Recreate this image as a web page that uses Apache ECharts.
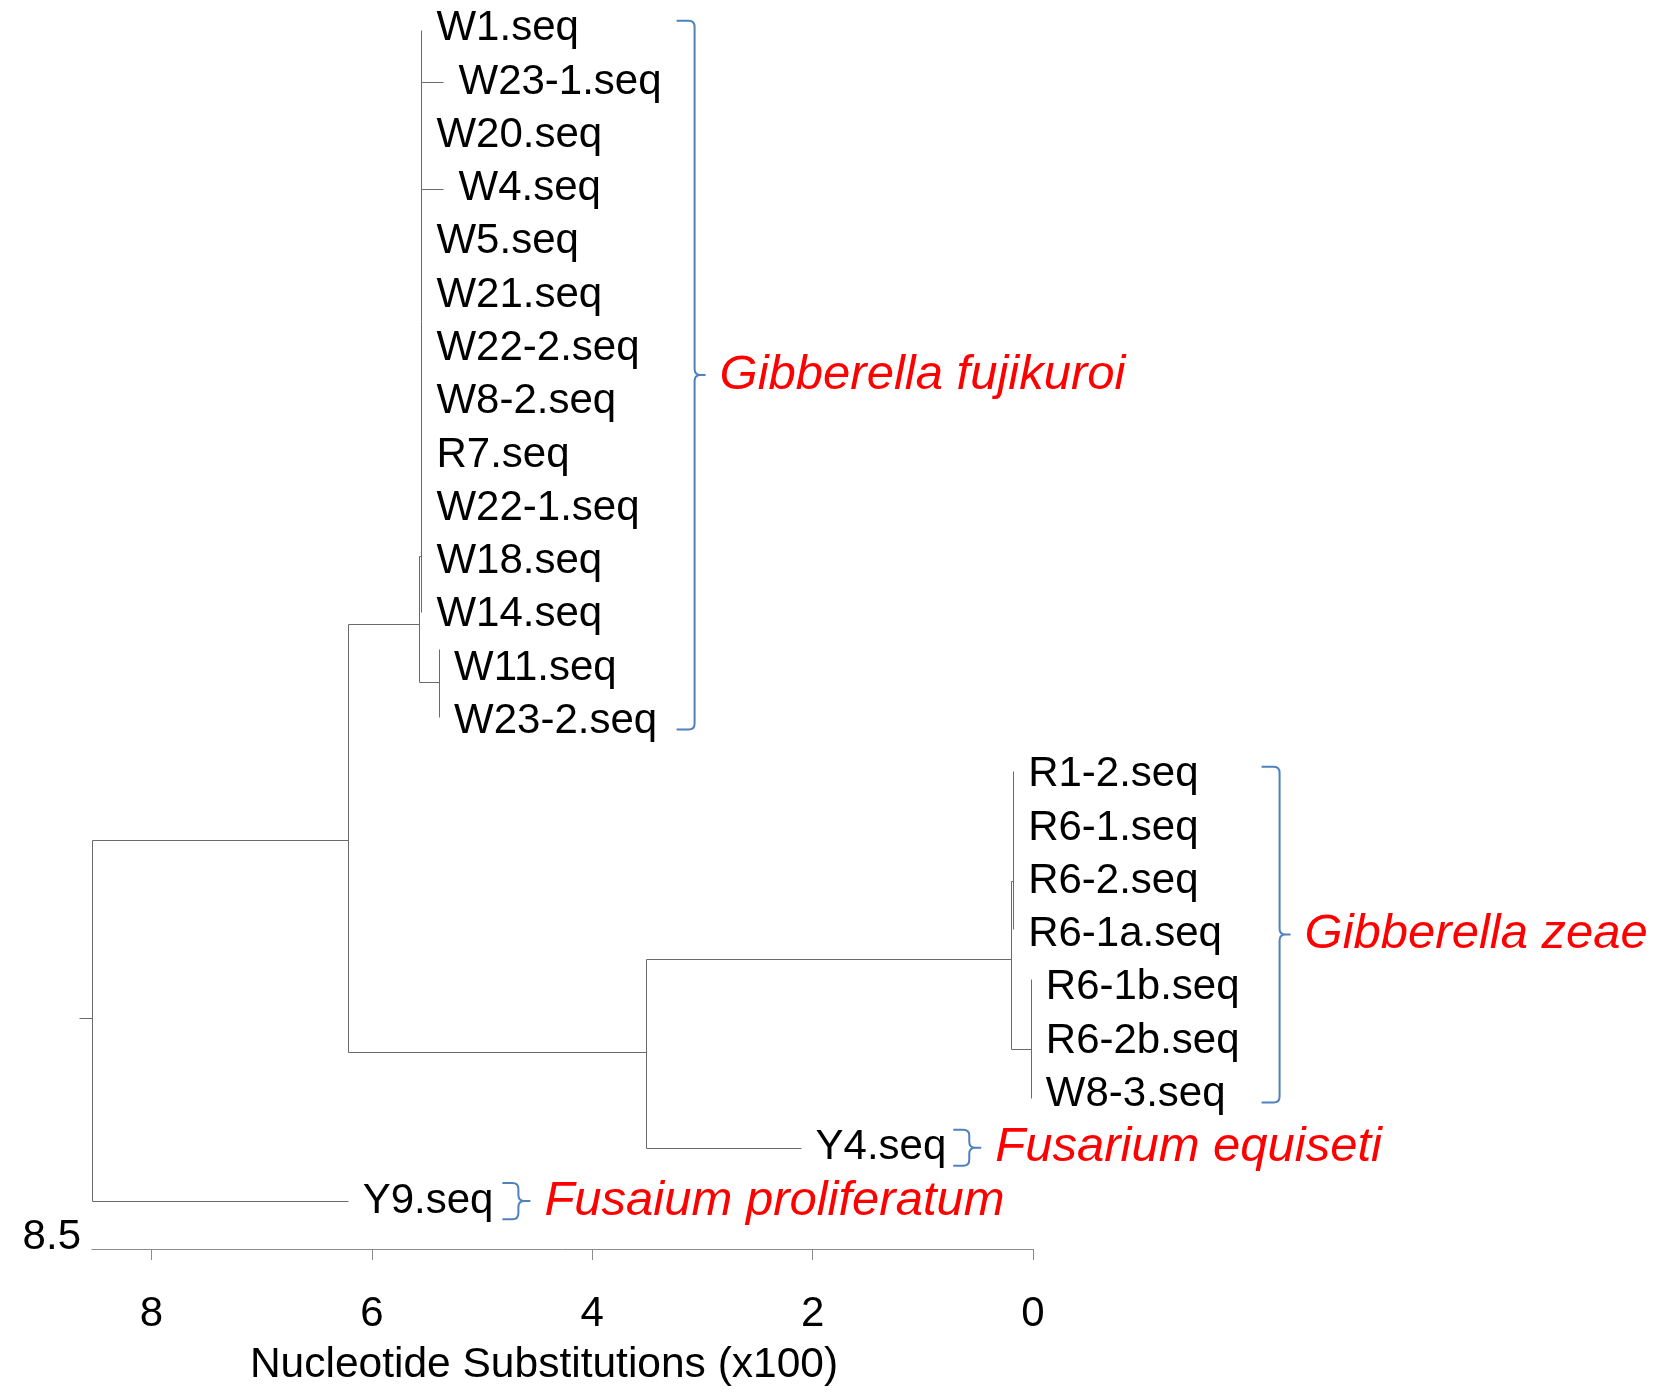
<!DOCTYPE html>
<html><head><meta charset="utf-8">
<script src="https://cdn.jsdelivr.net/npm/echarts@6.0.0/dist/echarts.min.js"></script>
<style>html,body{margin:0;padding:0;background:#fff}#c{width:1656px;height:1392px}</style>
</head><body><div id="c"></div>
<script>
// ---- data ----
const leafNames = ['W1.seq','W23-1.seq','W20.seq','W4.seq','W5.seq','W21.seq','W22-2.seq','W8-2.seq','R7.seq','W22-1.seq','W18.seq','W14.seq','W11.seq','W23-2.seq','R1-2.seq','R6-1.seq','R6-2.seq','R6-1a.seq','R6-1b.seq','R6-2b.seq','W8-3.seq','Y4.seq','Y9.seq'];
const leafTip = [5.55,5.35,5.55,5.35,5.55,5.55,5.55,5.55,5.55,5.55,5.55,5.55,5.39,5.39,0.18,0.18,0.18,0.18,0.02,0.02,0.02,2.11,6.22];
const leafParent = ['G','G','G','G','G','G','G','G','G','G','G','G','H','H','B','B','B','B','C','C','C','I','root'];

const nodeIds        = ['root','E','F','G','H','I','A','B','C'];
const nodeDepth      = [8.54, 6.22, 5.57, 5.55, 5.39, 3.51, 0.20, 0.18, 0.02];
const nodeParent     = [null,'root','E','F','F','E','I','A','A'];
const nodeAttachRow  = [18.56, 15.22, 11.18, 9.89, 12.26, 19.20, 17.46, 16.00, 19.14];
const nodeSpanTop    = [15.22, 11.18, 9.89, 0.02, 11.64, 17.46, 16.00, 13.93, 17.83];
const nodeSpanBottom = [22.00, 19.20, 12.26, 10.95, 12.92, 21.00, 19.14, 16.90, 20.07];
const rootStubDepth = 8.66;

const axisMax = 8.54;
const xTicks = [0, 2, 4, 6, 8];
const axisStartLabel = '8.5';
const axisTitle = 'Nucleotide Substitutions (x100)';

const cladeNames = ['Gibberella fujikuroi','Gibberella zeae','Fusarium equiseti','Fusaium proliferatum'];
const cladeFirstRow = [0, 14, 21, 22];
const cladeLastRow  = [13, 20, 21, 22];

// ---- layout / style (not data) ----
const LEAF_FONT = '42px "Liberation Sans", Arial, sans-serif';
const SPECIES_FONT = 'italic 49px "Liberation Sans", Arial, sans-serif';
const LABEL_OFFSET = 15;
const BRACE_GAP = [15, 22, 7, 9];
const TREE_COLOR = '#6a6a6a';
const BRACE_COLOR = '#4f81bd';
const ROW_MIN = -0.5, ROW_MAX = 22.9;

// ---- build segments ----
const nodeIdx = id => nodeIds.indexOf(id);
const segments = [];
nodeIds.forEach((id, i) => {
  segments.push([nodeDepth[i], nodeSpanTop[i], nodeDepth[i], nodeSpanBottom[i]]);
  const from = nodeParent[i] ? nodeDepth[nodeIdx(nodeParent[i])] : rootStubDepth;
  segments.push([from, nodeAttachRow[i], nodeDepth[i], nodeAttachRow[i]]);
});
leafNames.forEach((n, r) => {
  const pd = nodeDepth[nodeIdx(leafParent[r])];
  if (Math.abs(pd - leafTip[r]) > 1e-9) segments.push([pd, r, leafTip[r], r]);
});
const leafData = leafNames.map((n, r) => [leafTip[r], r, r]);
const cladeData = cladeNames.map((n, c) => [0, cladeFirstRow[c], c]);

const mctx = document.createElement('canvas').getContext('2d');
function textW(t, font) { mctx.font = font; return mctx.measureText(t).width; }

function bracePath(x0, top, bot, w, tip) {
  const xv = x0 + w, mid = (top + bot) / 2, r = Math.min(6, (bot - top) / 6);
  return `M${x0} ${top} L${xv - r} ${top} Q${xv} ${top} ${xv} ${top + r} L${xv} ${mid - r} Q${xv} ${mid} ${xv + r} ${mid} L${xv + tip} ${mid} M${xv + r} ${mid} Q${xv} ${mid} ${xv} ${mid + r} L${xv} ${bot - r} Q${xv} ${bot} ${xv - r} ${bot} L${x0} ${bot}`;
}

const chart = echarts.init(document.getElementById('c'), null, {renderer: 'canvas'});
chart.setOption({
  backgroundColor: '#fff',
  animation: false,
  grid: {left: 92, right: 623, top: 2, bottom: 138},
  xAxis: {
    type: 'value', inverse: true, min: 0, max: axisMax, interval: 2,
    axisLine: {show: true, onZero: false, lineStyle: {color: '#8c8c8c', width: 1}},
    axisTick: {show: true, customValues: xTicks, length: 11, lineStyle: {color: '#8c8c8c'}},
    axisLabel: {customValues: xTicks, fontSize: 42, fontFamily: 'Liberation Sans', color: '#000', margin: 44},
    splitLine: {show: false},
    name: axisTitle, nameLocation: 'middle', nameGap: 95,
    nameTextStyle: {fontSize: 42.5, fontFamily: 'Liberation Sans', color: '#000', padding: [0, 37, 0, 0]}
  },
  yAxis: {type: 'value', inverse: true, min: ROW_MIN, max: ROW_MAX, show: false},
  series: [
    {
      type: 'custom', name: 'tree', clip: false, silent: true,
      dimensions: ['x1', 'y1', 'x2', 'y2'],
      encode: {x: [0, 2], y: [1, 3]},
      data: segments,
      renderItem(params, api) {
        const a = api.coord([api.value(0), api.value(1)]);
        const b = api.coord([api.value(2), api.value(3)]);
        const s = v => Math.round(v) + 0.5;
        return {type: 'line', shape: {x1: s(a[0]), y1: s(a[1]), x2: s(b[0]), y2: s(b[1])},
                style: {stroke: TREE_COLOR, lineWidth: 1}};
      }
    },
    {
      type: 'custom', name: 'leaves', clip: false, silent: true,
      encode: {x: 0, y: 1},
      data: leafData,
      renderItem(params, api) {
        const p = api.coord([api.value(0), api.value(1)]);
        return {type: 'text', x: p[0] + LABEL_OFFSET, y: p[1],
                style: {text: leafNames[api.value(2)], font: LEAF_FONT, fill: '#000', align: 'left', verticalAlign: 'middle'}};
      }
    },
    {
      type: 'custom', name: 'clades', clip: false, silent: true,
      encode: {x: 0, y: 1},
      data: cladeData,
      renderItem(params, api) {
        const c = api.value(2);
        const f = cladeFirstRow[c], l = cladeLastRow[c];
        let right = -Infinity;
        for (let r = f; r <= l; r++) {
          const p = api.coord([leafTip[r], r]);
          right = Math.max(right, p[0] + LABEL_OFFSET + textW(leafNames[r], LEAF_FONT));
        }
        const single = f === l;
        const pad = single ? 0.34 : 0.15;
        const top = api.coord([0, f - pad])[1];
        const bot = api.coord([0, l + pad])[1];
        const x0 = right + BRACE_GAP[c];
        const w = single ? 16 : 18, tip = single ? 12 : 11;
        return {type: 'group', children: [
          {type: 'path', shape: {pathData: bracePath(x0, top, bot, w, tip)},
           style: {stroke: BRACE_COLOR, lineWidth: 2, fill: null}},
          {type: 'text', x: x0 + w + tip + 14, y: (top + bot) / 2,
           style: {text: cladeNames[c], font: SPECIES_FONT, fill: '#ff0000', align: 'left', verticalAlign: 'middle'}}
        ]};
      }
    },
    {
      type: 'custom', name: 'axisStart', clip: false, silent: true,
      encode: {x: 0, y: 1},
      data: [[axisMax, ROW_MAX]],
      renderItem(params, api) {
        const p = api.coord([api.value(0), api.value(1)]);
        return {type: 'text', x: p[0] - 11, y: p[1] - 12,
                style: {text: axisStartLabel, font: LEAF_FONT, fill: '#000', align: 'right', verticalAlign: 'middle'}};
      }
    }
  ]
});
</script>
</body></html>
